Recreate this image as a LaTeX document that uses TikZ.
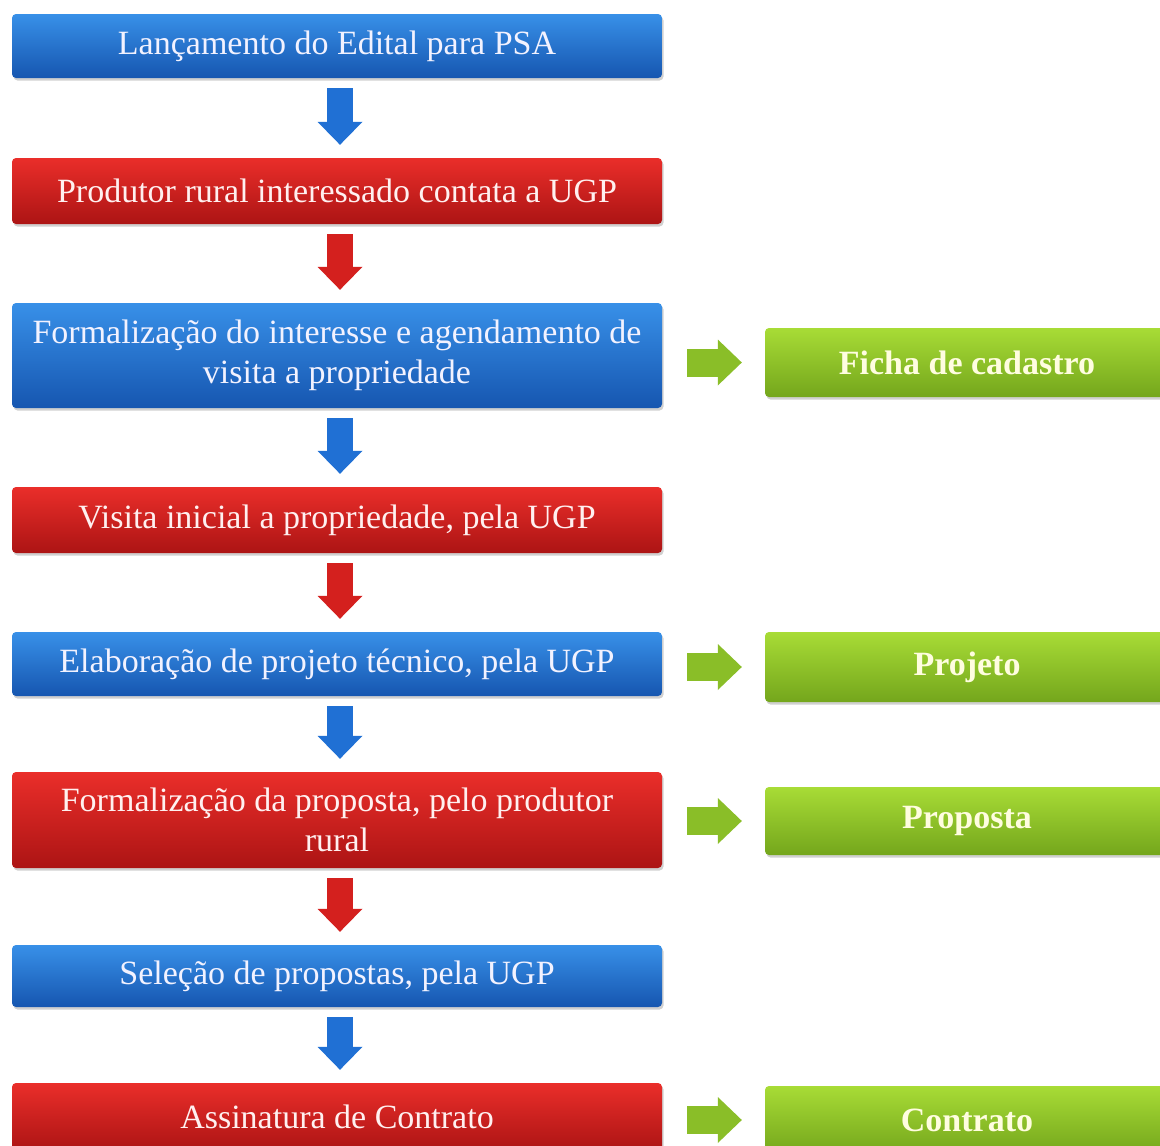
\documentclass[tikz,border=0pt]{standalone}
\usepackage{fontspec}
\setmainfont{Liberation Serif}
\usetikzlibrary{arrows.meta,calc,shadows}
\definecolor{bluetop}{RGB}{56,144,232}
\definecolor{bluebot}{RGB}{22,86,176}
\definecolor{redtop}{RGB}{234,46,42}
\definecolor{redbot}{RGB}{172,20,20}
\definecolor{greentop}{RGB}{168,220,54}
\definecolor{greenbot}{RGB}{116,166,28}
\definecolor{bluearr}{RGB}{32,112,212}
\definecolor{redarr}{RGB}{212,32,30}
\definecolor{greenarr}{RGB}{138,190,40}
\begin{document}
\begin{tikzpicture}[x=1pt,y=-1pt,
  box/.style={rectangle, rounded corners=4pt, minimum width=650pt, align=center,
    font=\fontsize{34}{40}\selectfont, inner sep=0pt,
    drop shadow={shadow xshift=1.5pt,shadow yshift=-2.5pt,opacity=0.3,fill=black!60}},
  bluebox/.style={box, top color=bluetop, bottom color=bluebot, text=blue!5!white},
  redbox/.style={box, top color=redtop, bottom color=redbot, text=red!6!white},
  outbox/.style={box, minimum width=404pt, font=\bfseries\fontsize{34}{40}\selectfont,
    top color=greentop, bottom color=greenbot, text=yellow!12!white},
  downblue/.style={line width=26pt, draw=bluearr, -{Triangle[width=45pt,length=23pt,line width=0pt]}},
  downred/.style={line width=26pt, draw=redarr, -{Triangle[width=45pt,length=23pt,line width=0pt]}},
  garrow/.style={line width=28pt, draw=greenarr, -{Triangle[width=46pt,length=24pt,line width=0pt]}}
]
\useasboundingbox[fill=white] (0,0) rectangle (1160,1146);

\node[bluebox, minimum height=64pt] (b1) at (337,46) {Lançamento do Edital para PSA};
\node[redbox, minimum height=66pt] (b2) at (337,191) {Produtor rural interessado contata a UGP};
\node[bluebox, minimum height=105pt] (b3) at (337,355.5) {Formalização do interesse e agendamento de\\visita a propriedade};
\node[redbox, minimum height=66pt] (b4) at (337,520) {Visita inicial a propriedade, pela UGP};
\node[bluebox, minimum height=64pt] (b5) at (337,664) {Elaboração de projeto técnico, pela UGP};
\node[redbox, minimum height=96pt] (b6) at (337,820) {Formalização da proposta, pelo produtor\\rural};
\node[bluebox, minimum height=62pt] (b7) at (337,976) {Seleção de propostas, pela UGP};
\node[redbox, minimum height=68pt] (b8) at (337,1117) {Assinatura de Contrato};

\node[outbox, minimum height=69pt] (g1) at (967,362.5) {Ficha de cadastro};
\node[outbox, minimum height=70pt] (g2) at (967,667) {Projeto};
\node[outbox, minimum height=68pt] (g3) at (967,821) {Proposta};
\node[outbox, minimum height=68pt] (g4) at (967,1120) {Contrato};

\draw[downblue] ($(b1.south)+(3,10)$) -- ($(b2.north)+(3,-13)$);
\draw[downred]  ($(b2.south)+(3,10)$) -- ($(b3.north)+(3,-13)$);
\draw[downblue] ($(b3.south)+(3,10)$) -- ($(b4.north)+(3,-13)$);
\draw[downred]  ($(b4.south)+(3,10)$) -- ($(b5.north)+(3,-13)$);
\draw[downblue] ($(b5.south)+(3,10)$) -- ($(b6.north)+(3,-13)$);
\draw[downred]  ($(b6.south)+(3,10)$) -- ($(b7.north)+(3,-13)$);
\draw[downblue] ($(b7.south)+(3,10)$) -- ($(b8.north)+(3,-13)$);

\draw[garrow] ($(b3.east |- g1.west)+(25,0)$) -- ($(g1.west)+(-23,0)$);
\draw[garrow] ($(b5.east |- g2.west)+(25,0)$) -- ($(g2.west)+(-23,0)$);
\draw[garrow] ($(b6.east |- g3.west)+(25,0)$) -- ($(g3.west)+(-23,0)$);
\draw[garrow] ($(b8.east |- g4.west)+(25,0)$) -- ($(g4.west)+(-23,0)$);
\end{tikzpicture}
\end{document}
